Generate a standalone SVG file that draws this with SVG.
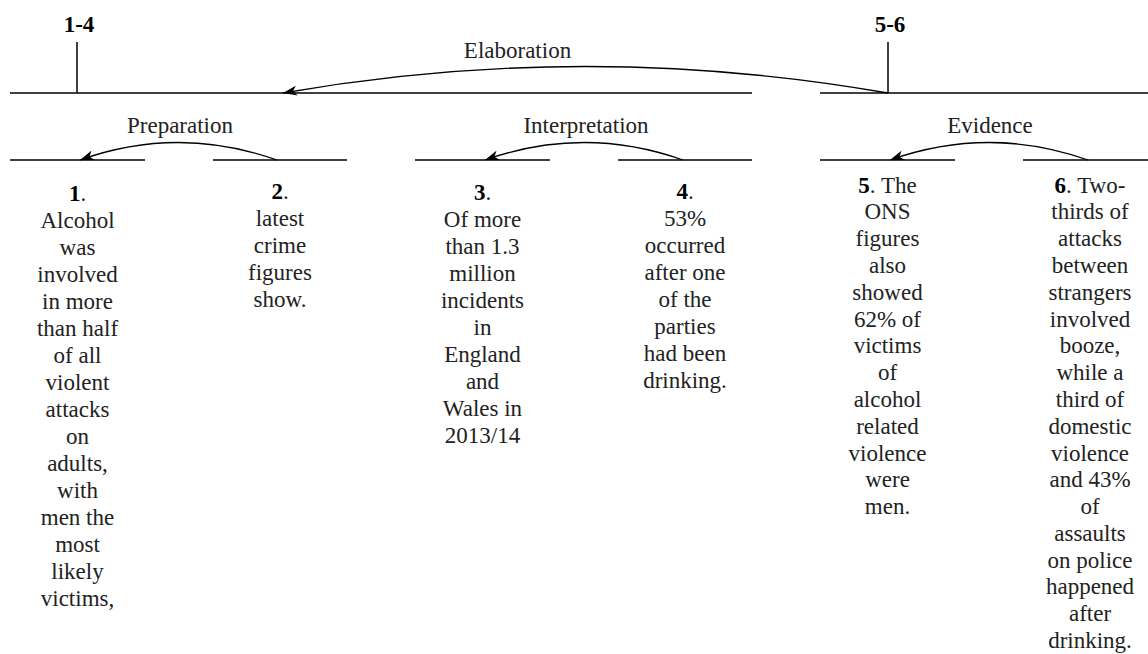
<svg xmlns="http://www.w3.org/2000/svg" width="1148" height="654" viewBox="0 0 1148 654" font-family="'Liberation Serif', 'Times New Roman', serif">
<style>
text,tspan{font-family:'Liberation Serif','Times New Roman',serif;font-size:23px}
text{fill:#222;text-anchor:middle}
.b{font-weight:bold;fill:#000}
.seg{stroke:#000;stroke-width:1.5;fill:none}
.arc{stroke:#000;stroke-width:1.3;fill:none;marker-end:url(#ah)}
</style>
<defs>
<marker id="ah" viewBox="0 0 14 10" refX="14" refY="5" markerWidth="14" markerHeight="10" markerUnits="userSpaceOnUse" orient="auto">
<path d="M0,0 L14,5 L0,10 L4,5 z" fill="#000"/>
</marker>
</defs>
<rect width="1148" height="654" fill="#fff"/>
<g id="span-1-4">
<line class="seg" x1="10" y1="93" x2="752" y2="93"/>
<line class="seg" x1="77" y1="42" x2="77" y2="93"/>
<text class="b" x="79" y="32">1-4</text>
</g>
<g id="span-5-6">
<line class="seg" x1="820" y1="93" x2="1148" y2="93"/>
<line class="seg" x1="888" y1="42" x2="888" y2="93"/>
<text class="b" x="890" y="32">5-6</text>
</g>
<g id="node-1">
<line class="seg" x1="10" y1="160" x2="145" y2="160"/>
<text x="77.5" y="200.5"><tspan class="b">1</tspan>.<tspan x="77.5" dy="27">Alcohol</tspan><tspan x="77.5" dy="27">was</tspan><tspan x="77.5" dy="27">involved</tspan><tspan x="77.5" dy="27">in more</tspan><tspan x="77.5" dy="27">than half</tspan><tspan x="77.5" dy="27">of all</tspan><tspan x="77.5" dy="27">violent</tspan><tspan x="77.5" dy="27">attacks</tspan><tspan x="77.5" dy="27">on</tspan><tspan x="77.5" dy="27">adults,</tspan><tspan x="77.5" dy="27">with</tspan><tspan x="77.5" dy="27">men the</tspan><tspan x="77.5" dy="27">most</tspan><tspan x="77.5" dy="27">likely</tspan><tspan x="77.5" dy="27">victims,</tspan></text>
</g>
<g id="node-2">
<line class="seg" x1="213" y1="160" x2="347" y2="160"/>
<text x="280" y="199"><tspan class="b">2</tspan>.<tspan x="280" dy="27">latest</tspan><tspan x="280" dy="27">crime</tspan><tspan x="280" dy="27">figures</tspan><tspan x="280" dy="27">show.</tspan></text>
</g>
<g id="node-3">
<line class="seg" x1="415" y1="160" x2="550" y2="160"/>
<text x="482.5" y="199.5"><tspan class="b">3</tspan>.<tspan x="482.5" dy="27">Of more</tspan><tspan x="482.5" dy="27">than 1.3</tspan><tspan x="482.5" dy="27">million</tspan><tspan x="482.5" dy="27">incidents</tspan><tspan x="482.5" dy="27">in</tspan><tspan x="482.5" dy="27">England</tspan><tspan x="482.5" dy="27">and</tspan><tspan x="482.5" dy="27">Wales in</tspan><tspan x="482.5" dy="27">2013/14</tspan></text>
</g>
<g id="node-4">
<line class="seg" x1="618" y1="160" x2="752" y2="160"/>
<text x="685" y="199"><tspan class="b">4</tspan>.<tspan x="685" dy="27">53%</tspan><tspan x="685" dy="27">occurred</tspan><tspan x="685" dy="27">after one</tspan><tspan x="685" dy="27">of the</tspan><tspan x="685" dy="27">parties</tspan><tspan x="685" dy="27">had been</tspan><tspan x="685" dy="27">drinking.</tspan></text>
</g>
<g id="node-5">
<line class="seg" x1="820" y1="160" x2="955" y2="160"/>
<text x="887.5" y="192.5"><tspan class="b">5</tspan>. The<tspan x="887.5" dy="26.8">ONS</tspan><tspan x="887.5" dy="26.8">figures</tspan><tspan x="887.5" dy="26.8">also</tspan><tspan x="887.5" dy="26.8">showed</tspan><tspan x="887.5" dy="26.8">62% of</tspan><tspan x="887.5" dy="26.8">victims</tspan><tspan x="887.5" dy="26.8">of</tspan><tspan x="887.5" dy="26.8">alcohol</tspan><tspan x="887.5" dy="26.8">related</tspan><tspan x="887.5" dy="26.8">violence</tspan><tspan x="887.5" dy="26.8">were</tspan><tspan x="887.5" dy="26.8">men.</tspan></text>
</g>
<g id="node-6">
<line class="seg" x1="1023" y1="160" x2="1148" y2="160"/>
<text x="1090" y="192.5"><tspan class="b">6</tspan>. Two-<tspan x="1090" dy="26.8">thirds of</tspan><tspan x="1090" dy="26.8">attacks</tspan><tspan x="1090" dy="26.8">between</tspan><tspan x="1090" dy="26.8">strangers</tspan><tspan x="1090" dy="26.8">involved</tspan><tspan x="1090" dy="26.8">booze,</tspan><tspan x="1090" dy="26.8">while a</tspan><tspan x="1090" dy="26.8">third of</tspan><tspan x="1090" dy="26.8">domestic</tspan><tspan x="1090" dy="26.8">violence</tspan><tspan x="1090" dy="26.8">and 43%</tspan><tspan x="1090" dy="26.8">of</tspan><tspan x="1090" dy="26.8">assaults</tspan><tspan x="1090" dy="26.8">on police</tspan><tspan x="1090" dy="26.8">happened</tspan><tspan x="1090" dy="26.8">after</tspan><tspan x="1090" dy="26.8">drinking.</tspan></text>
</g>
<g id="connectors">
<path class="arc" d="M888,93 Q585,40 283,93"/>
<text x="517.5" y="58">Elaboration</text>
<path class="arc" d="M277,160 Q178,125 80,160"/>
<text x="180" y="133">Preparation</text>
<path class="arc" d="M683,160 Q584,125 485,160"/>
<text x="586" y="133">Interpretation</text>
<path class="arc" d="M1088,160 Q989,125 890,160"/>
<text x="990" y="133">Evidence</text>
</g>
</svg>
